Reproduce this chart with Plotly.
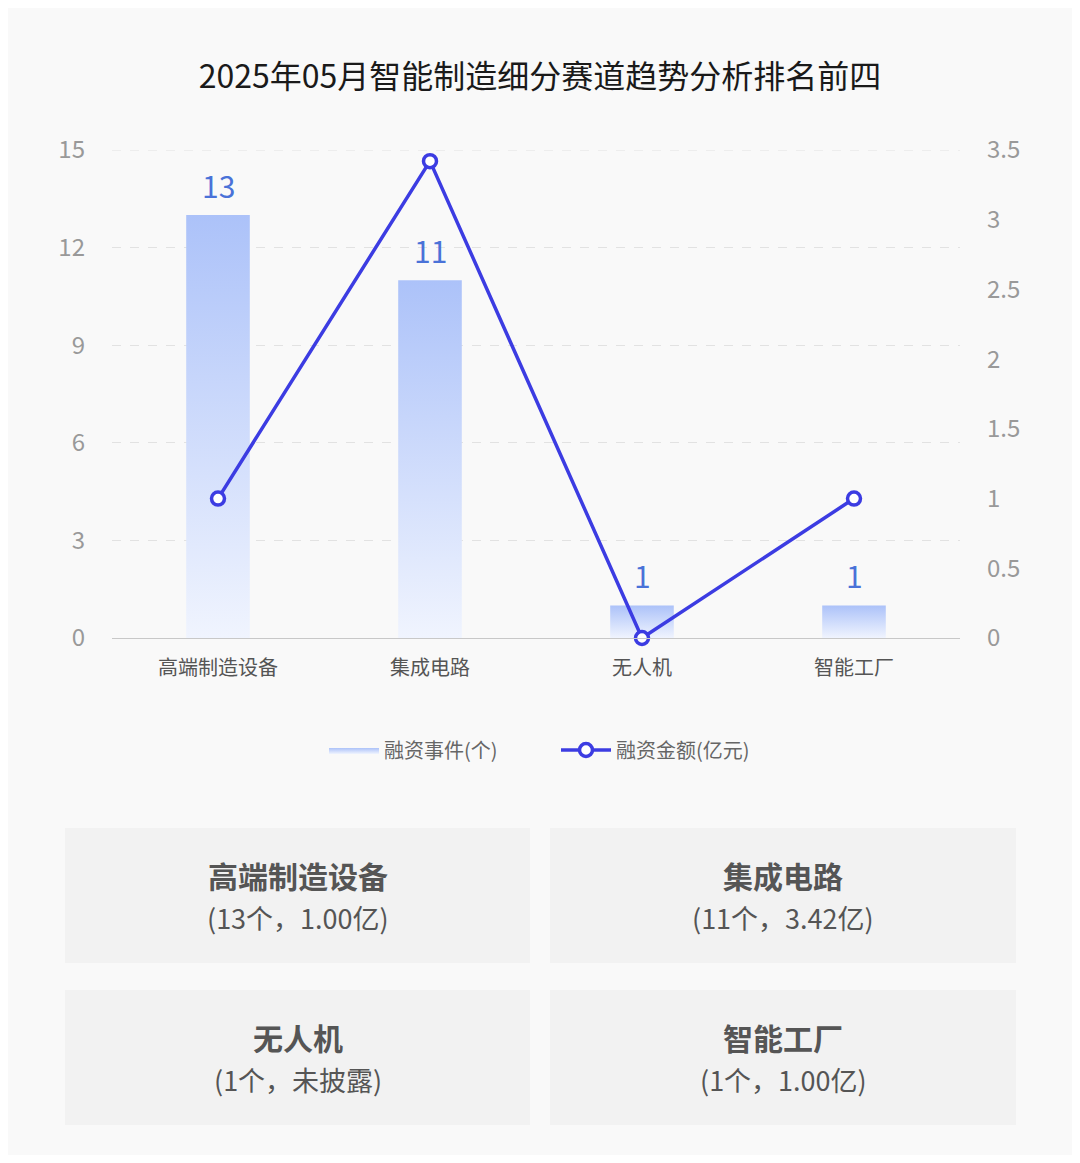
import plotly.graph_objects as go

# ---- data ----
categories = ["高端制造设备", "集成电路", "无人机", "智能工厂"]
event_counts = [13, 11, 1, 1]
amounts = [1.00, 3.42, 0.0, 1.00]
disclosed = [True, True, False, True]
left_ticks = [0, 3, 6, 9, 12, 15]
right_ticks = [0, 0.5, 1, 1.5, 2, 2.5, 3, 3.5]
title_text = "2025年05月智能制造细分赛道趋势分析排名前四"
bar_name = "融资事件(个)"
line_name = "融资金额(亿元)"

FONT = "Noto Sans CJK SC"
OFF = 8  # browser body margin
W, H = 1080 - 2 * OFF, 1163 - 2 * OFF
# plot area in reference px, converted to figure px
PL, PR, PT, PB = 112 - OFF, 960 - OFF, 150 - OFF, 638 - OFF


def py(y):  # reference pixel y -> paper y
    return (PB - (y - OFF)) / (PB - PT)


def px(x):  # reference pixel x -> paper x
    return ((x - OFF) - PL) / (PR - PL)


fig = go.Figure()

bar_w = 0.3
for i, (c, v) in enumerate(zip(categories, event_counts)):
    x0, x1 = i - bar_w / 2, i + bar_w / 2
    fig.add_trace(go.Scatter(
        x=[x0, x1, x1, x0, x0], y=[0, 0, v, v, 0],
        mode="lines", fill="toself", line=dict(width=0),
        fillgradient=dict(type="vertical",
                          colorscale=[[0, "rgba(240,244,254,1)"], [1, "rgba(172,194,249,1)"]]),
        name=bar_name, legendgroup="bar", showlegend=(i == 0),
        hoverinfo="skip",
    ))

# data labels
for i, v in enumerate(event_counts):
    fig.add_annotation(x=i, y=v, xref="x", yref="y", text=str(v), showarrow=False,
                       yshift=30, font=dict(family=FONT, size=30, color="#4a72d8"))

fig.add_trace(go.Scatter(
    x=list(range(len(categories))), y=amounts, yaxis="y2",
    mode="lines+markers", name=line_name,
    line=dict(color="#3c3ce2", width=3.5),
    marker=dict(symbol="circle", size=13, color="white",
                line=dict(color="#3c3ce2", width=3.5)),
    cliponaxis=False,
))

ytop = left_ticks[-1]
fig.update_layout(
    width=W, height=H,
    paper_bgcolor="#f9f9f9", plot_bgcolor="#f9f9f9",
    margin=dict(l=PL, r=W - PR, t=PT, b=H - PB, pad=0),
    font=dict(family=FONT, color="#555"),
    title=dict(text=title_text, x=0.5, xanchor="center", y=1 - (77 - OFF) / H, yanchor="middle",
               font=dict(family=FONT, size=32, color="#1a1a1a")),
    xaxis=dict(range=[-0.5, len(categories) - 0.5], tickvals=list(range(len(categories))),
               ticktext=categories, showgrid=False, zeroline=False,
               showline=True, linecolor="#c8c8c8", linewidth=1.2, ticks="",
               tickfont=dict(family=FONT, size=20, color="#555"), ticklabelstandoff=12),
    yaxis=dict(range=[0, ytop], tickvals=left_ticks, showgrid=True, gridcolor="#e2e2e2",
               griddash="dash", gridwidth=1, zeroline=False, showline=False,
               tickfont=dict(family=FONT, size=24, color="#999"), ticklabelstandoff=26),
    yaxis2=dict(range=[0, right_ticks[-1]], tickvals=right_ticks, overlaying="y", side="right",
                showgrid=False, zeroline=False, showline=False,
                tickfont=dict(family=FONT, size=24, color="#999"), ticklabelstandoff=26),
    legend=dict(orientation="h", x=px(324), xanchor="left", y=py(750), yanchor="middle",
                font=dict(family=FONT, size=20, color="#666"), itemwidth=50,
                entrywidth=167, bgcolor="rgba(0,0,0,0)"),
    showlegend=True,
)

# top gridline (at the range edge)
fig.add_shape(type="line", xref="paper", yref="y", x0=0, x1=1, y0=ytop, y1=ytop,
              line=dict(color="#e2e2e2", width=1, dash="dash"), layer="below")

# summary boxes
boxes = [(65, 530, 828, 963), (550, 1016, 828, 963), (65, 530, 990, 1125), (550, 1016, 990, 1125)]
for (x0, x1, y0, y1), c, n, a, d in zip(boxes, categories, event_counts, amounts, disclosed):
    fig.add_shape(type="rect", xref="paper", yref="paper",
                  x0=px(x0), x1=px(x1), y0=py(y0), y1=py(y1),
                  fillcolor="#f2f2f2", line=dict(width=0), layer="below")
    cx = px((x0 + x1) / 2)
    fig.add_annotation(xref="paper", yref="paper", x=cx, y=py(y0 + 47), text=f"<b>{c}</b>",
                       xanchor="center", yanchor="middle",
                       showarrow=False, font=dict(family=FONT, size=30, color="#555"))
    amt = f"{a:.2f}亿" if d else "未披露"
    fig.add_annotation(xref="paper", yref="paper", x=cx, y=py(y0 + 89), text=f"({n}个，{amt})",
                       xanchor="center", yanchor="middle",
                       showarrow=False, font=dict(family=FONT, size=27, color="#555"))

fig.write_html("out.html")
